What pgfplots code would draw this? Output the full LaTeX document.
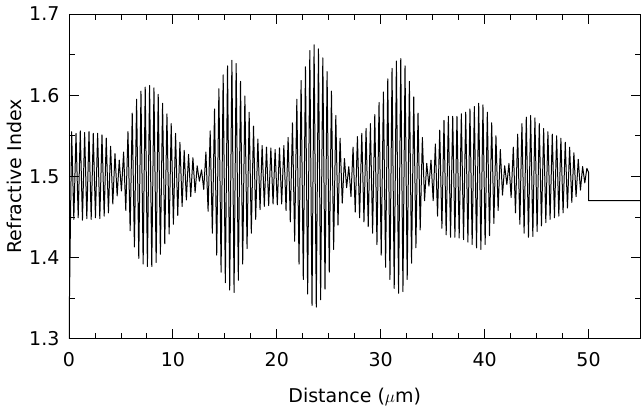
\documentclass[border=0pt]{standalone}
\usepackage{fontspec}
\setmainfont{DejaVu Sans}
\usepackage{pgfplots}
\pgfplotsset{compat=1.18}

\begin{document}
\begin{tikzpicture}
\useasboundingbox (-69pt,-74pt) rectangle (572.5pt,339pt);
\begin{axis}[
  at={(0,0)}, anchor=south west,
  scale only axis, width=572pt, height=325pt,
  xmin=0, xmax=55, ymin=1.3, ymax=1.7,
  xtick={0,10,...,50}, minor x tick num=3,
  ytick={1.3,1.4,1.5,1.6,1.7}, minor y tick num=1,
  tick align=inside,
  major tick length=10pt, minor tick length=6pt,
  every tick/.style={black, line width=0.8pt},
  axis line style={line width=0.8pt},
  /pgf/number format/assume math mode=true,
  yticklabel={\pgfmathprintnumber[fixed,fixed zerofill,precision=1]{\tick}},
  tick label style={font=\fontsize{19}{21}\selectfont},
  yticklabel style={xshift=-6pt},
  xticklabel style={yshift=-10pt},
  label style={font=\fontsize{19}{21}\selectfont},
  xlabel={Distance ($\mu$m)},
  ylabel={Refractive Index},
  xlabel style={at={(axis description cs:0.5,0)}, anchor=center, yshift=-58pt},
  ylabel style={at={(axis description cs:0,0.5)}, anchor=center, yshift=55pt},
]
\addplot[black, line width=1pt, line join=round] coordinates {
(0,1.30)
(0.26,1.555) (0.47,1.447) (0.68,1.553) (0.89,1.449) (1.09,1.556) (1.30,1.446)
(1.51,1.554) (1.72,1.448) (1.93,1.555) (2.14,1.447) (2.34,1.553) (2.55,1.449)
(2.76,1.553) (2.97,1.448) (3.18,1.551) (3.39,1.451) (3.59,1.547) (3.80,1.455)
(4.01,1.537) (4.22,1.466) (4.43,1.528) (4.64,1.476) (4.84,1.520) (5.05,1.482)
(5.26,1.530) (5.47,1.458) (5.68,1.555) (5.89,1.433) (6.09,1.578) (6.30,1.413)
(6.51,1.595) (6.72,1.399) (6.93,1.605) (7.14,1.392) (7.34,1.610) (7.55,1.389)
(7.76,1.612) (7.97,1.389) (8.18,1.609) (8.39,1.394) (8.59,1.601) (8.80,1.404)
(9.01,1.590) (9.22,1.417) (9.43,1.577) (9.64,1.429) (9.84,1.565) (10.05,1.441)
(10.26,1.553) (10.47,1.452) (10.68,1.542) (10.89,1.463) (11.09,1.532) (11.30,1.471)
(11.51,1.527) (11.72,1.475) (11.93,1.523) (12.14,1.480) (12.34,1.513) (12.55,1.494)
(12.76,1.508) (12.97,1.484) (13.18,1.530) (13.39,1.457) (13.59,1.556) (13.80,1.430)
(14.01,1.583) (14.22,1.403) (14.43,1.608) (14.64,1.382) (14.84,1.625) (15.05,1.369)
(15.26,1.636) (15.47,1.360) (15.68,1.643) (15.89,1.357) (16.09,1.639) (16.30,1.372)
(16.51,1.617) (16.72,1.392) (16.93,1.599) (17.14,1.411) (17.34,1.579) (17.55,1.430)
(17.76,1.562) (17.97,1.447) (18.18,1.546) (18.39,1.459) (18.59,1.538) (18.80,1.463)
(19.01,1.536) (19.22,1.464) (19.43,1.535) (19.64,1.466) (19.84,1.533) (20.05,1.465)
(20.26,1.535) (20.47,1.466) (20.68,1.538) (20.89,1.458) (21.09,1.548) (21.30,1.444)
(21.51,1.566) (21.72,1.420) (21.93,1.595) (22.14,1.392) (22.34,1.618) (22.55,1.373)
(22.76,1.635) (22.97,1.355) (23.18,1.655) (23.39,1.341) (23.59,1.662) (23.80,1.339)
(24.01,1.657) (24.22,1.348) (24.43,1.646) (24.64,1.361) (24.84,1.629) (25.05,1.382)
(25.26,1.605) (25.47,1.410) (25.68,1.575) (25.89,1.440) (26.09,1.547) (26.30,1.467)
(26.51,1.522) (26.72,1.486) (26.93,1.512) (27.14,1.475) (27.34,1.536) (27.55,1.456)
(27.76,1.549) (27.97,1.449) (28.18,1.553) (28.39,1.444) (28.59,1.559) (28.80,1.438)
(29.01,1.565) (29.22,1.430) (29.43,1.576) (29.64,1.416) (29.84,1.591) (30.05,1.403)
(30.26,1.604) (30.47,1.388) (30.68,1.620) (30.89,1.373) (31.09,1.633) (31.30,1.362)
(31.51,1.642) (31.72,1.356) (31.93,1.645) (32.14,1.358) (32.34,1.636) (32.55,1.373)
(32.76,1.617) (32.97,1.393) (33.18,1.598) (33.39,1.412) (33.59,1.578) (33.80,1.434)
(34.01,1.548) (34.22,1.470) (34.43,1.516) (34.64,1.488) (34.84,1.520) (35.05,1.470)
(35.26,1.540) (35.47,1.451) (35.68,1.557) (35.89,1.436) (36.09,1.569) (36.30,1.428)
(36.51,1.574) (36.72,1.425) (36.93,1.574) (37.14,1.425) (37.34,1.574) (37.55,1.424)
(37.76,1.577) (37.97,1.422) (38.18,1.579) (38.39,1.419) (38.59,1.583) (38.80,1.416)
(39.01,1.586) (39.22,1.412) (39.43,1.590) (39.64,1.410) (39.84,1.588) (40.05,1.416)
(40.26,1.579) (40.47,1.427) (40.68,1.566) (40.89,1.442) (41.09,1.550) (41.30,1.458)
(41.51,1.533) (41.72,1.477) (41.93,1.513) (42.14,1.490) (42.34,1.516) (42.55,1.474)
(42.76,1.536) (42.97,1.455) (43.18,1.552) (43.39,1.441) (43.59,1.565) (43.80,1.430)
(44.01,1.573) (44.22,1.425) (44.43,1.575) (44.64,1.426) (44.84,1.572) (45.05,1.432)
(45.26,1.565) (45.47,1.439) (45.68,1.559) (45.89,1.443) (46.09,1.555) (46.30,1.447)
(46.51,1.552) (46.72,1.449) (46.93,1.550) (47.14,1.451) (47.34,1.547) (47.55,1.455)
(47.76,1.542) (47.97,1.461) (48.18,1.536) (48.39,1.468) (48.59,1.529) (48.80,1.475)
(49.01,1.521) (49.22,1.483) (49.43,1.512) (49.64,1.492) (49.84,1.510)
(50.00,1.505) (50.00,1.470) (55.00,1.470)
};
\end{axis}
\end{tikzpicture}
\end{document}
